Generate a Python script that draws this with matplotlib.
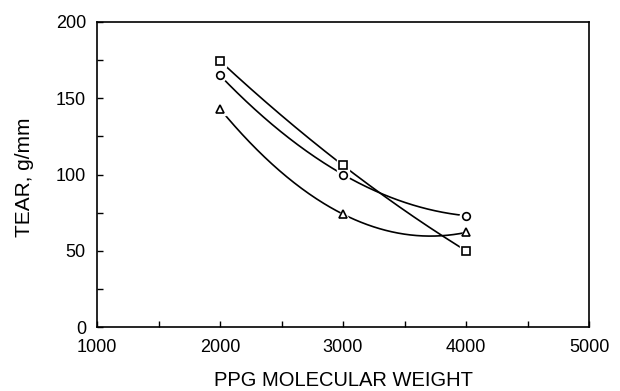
import numpy as np
import matplotlib
matplotlib.use("Agg")
import matplotlib.pyplot as plt
from matplotlib.ticker import MultipleLocator

mol_weight = [2000, 3000, 4000]
tear_square = [174.5, 106, 50]
tear_circle = [165, 100, 73]
tear_triangle = [143, 74, 62]

plt.rcParams['font.family'] = ['Liberation Sans', 'DejaVu Sans']

fig = plt.figure(figsize=(6.2, 3.91), dpi=100)
ax = fig.add_axes([97/620, 1 - 327/391, (589-97)/620, (327-22)/391])

xs = np.linspace(mol_weight[0], mol_weight[-1], 200)
for ys, mk in [(tear_square, 's'), (tear_circle, 'o'), (tear_triangle, '^')]:
    coef = np.polyfit(mol_weight, ys, 2)
    ax.plot(xs, np.polyval(coef, xs), color='black', lw=1.2, zorder=2)
    ax.plot(mol_weight, ys, ls='none', marker=mk, ms=9, mfc='white', mec='white', zorder=3)
    ax.plot(mol_weight, ys, ls='none', marker=mk, ms=5.5, mfc='white', mec='black', mew=1.2, zorder=4)

ax.set_xlim(1000, 5000)
ax.set_ylim(0, 200)
ax.xaxis.set_major_locator(MultipleLocator(1000))
ax.xaxis.set_minor_locator(MultipleLocator(500))
ax.yaxis.set_major_locator(MultipleLocator(50))
ax.yaxis.set_minor_locator(MultipleLocator(25))
ax.tick_params(which='both', direction='in', length=4, width=1, top=False, right=False, labelsize=13)
ax.tick_params(axis='x', pad=9)
ax.tick_params(axis='y', pad=8)
for s in ax.spines.values():
    s.set_linewidth(1.2)

ax.set_xlabel('PPG MOLECULAR WEIGHT', fontsize=14.5)
ax.set_ylabel('TEAR, g/mm', fontsize=15)
ax.xaxis.set_label_coords(0.5, -0.175, transform=ax.transAxes)
ax.xaxis.label.set_va('center')
ax.yaxis.set_label_coords(-0.148, 0.49, transform=ax.transAxes)
ax.yaxis.label.set_va('center')

fig.savefig('out.png', dpi=100)
